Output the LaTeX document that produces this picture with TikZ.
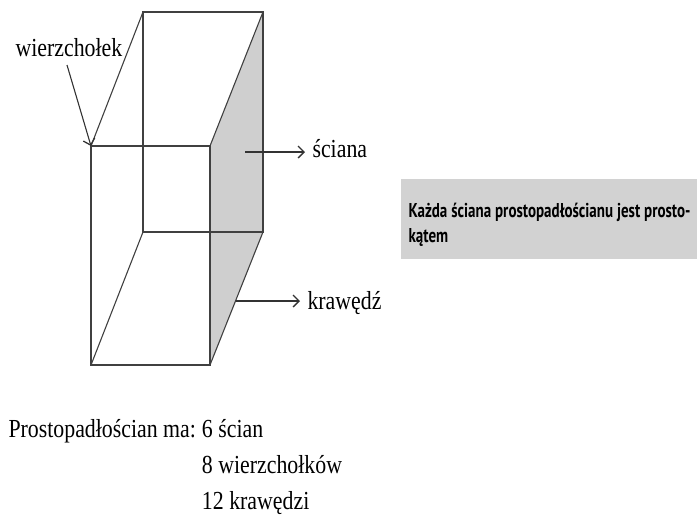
\documentclass[tikz,border=0pt]{standalone}
\usepackage{fontspec}
\setmainfont[FakeStretch=0.84]{Liberation Serif}
\newfontfamily\notefont[FakeStretch=0.75]{PT Sans}
\usetikzlibrary{positioning,arrows.meta}

\begin{document}
\begin{tikzpicture}[x=1pt,y=-1pt,line width=1.1pt,
    edge/.style={draw=black!75},
    pointer/.style={-{Straight Barb[length=6pt,width=12pt,line width=1.3pt]},black!80},
    lbl/.style={font=\fontsize{26}{30}\selectfont,inner sep=0pt}]
    \useasboundingbox (0,0) rectangle (697,520);

    % front and back faces
    \coordinate (A) at (91,146);
    \coordinate (B) at (210,146);
    \coordinate (C) at (210,365);
    \coordinate (D) at (91,365);
    \coordinate (E) at (143,12);
    \coordinate (F) at (263,12);
    \coordinate (G) at (263,232);
    \coordinate (H) at (143,232);

    \fill[gray!38] (B) -- (F) -- (G) -- (C) -- cycle;
    \draw[edge] (A) -- (B) -- (C) -- (D) -- cycle;
    \draw[edge] (E) -- (F) -- (G) -- (H) -- cycle;
    \draw[edge] (A) -- (E) (B) -- (F) (C) -- (G) (D) -- (H);

    % labels
    \node[lbl,anchor=base west] (vertex) at (15,56) {wierzchołek};
    \node[lbl,anchor=base west,inner xsep=7pt] (face) at (305,157) {ściana};
    \node[lbl,anchor=base west,inner xsep=7pt] (edgelbl) at (300,309) {krawędź};
    \coordinate (vtail) at (67,65);
    \coordinate (ftail) at (245,152);
    \coordinate (etail) at (236,301);

    \draw[pointer] (vtail) -- (A);
    \draw[pointer] (ftail) -- (ftail -| face.west);
    \draw[pointer] (etail) -- (etail -| edgelbl.west);

    \node[fill=gray!35,anchor=north west,minimum width=295pt,minimum height=80pt,
      text width=282pt,inner xsep=8pt,align=left,
      font=\notefont\bfseries\fontsize{20}{25}\selectfont] (note) at (400,178)
      {\spaceskip=4.5pt plus 1pt minus 1pt
       \rule{0pt}{26pt}Każda ściana prostopadłościanu jest prosto-\\kątem};

    \node[lbl,anchor=base west,font=\fontsize{26}{36}\selectfont] (summary) at (8,437)
      {\begin{tabular}[t]{@{}l@{\hspace{6pt}}l@{}}
        Prostopadłościan ma: & 6 ścian\\
        & 8 wierzchołków\\
        & 12 krawędzi
      \end{tabular}};
\end{tikzpicture}
\end{document}
